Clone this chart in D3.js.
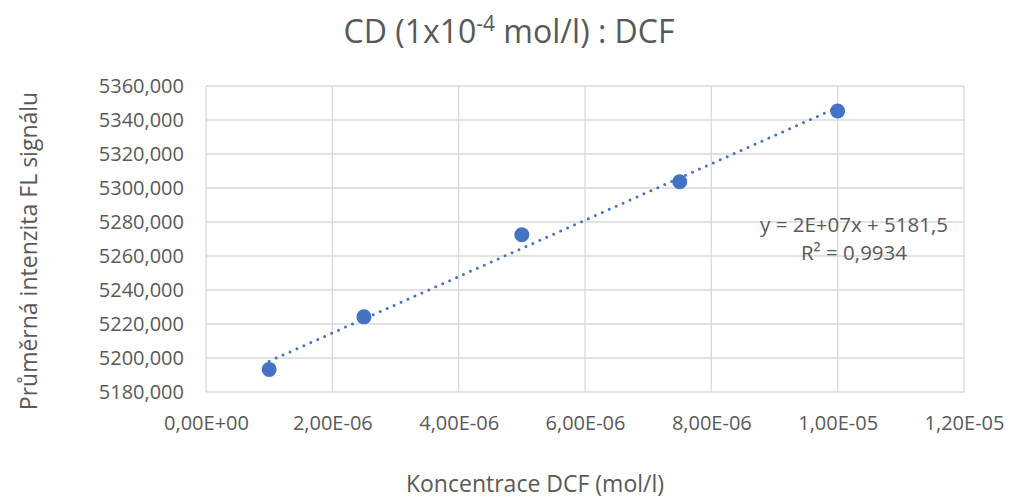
<!DOCTYPE html>
<html>
<head>
<meta charset="utf-8">
<script src="https://cdn.jsdelivr.net/npm/d3@7"></script>
<style>
  html, body { margin: 0; padding: 0; background: #fff; }
  svg text { font-family: "Open Sans", "Noto Sans", sans-serif; fill: #595959; }
</style>
</head>
<body>
<svg id="chart" width="1010" height="501"></svg>
<script>
// Concentration of DCF (mol/l) and mean FL signal intensity
const concentrations = [1e-6, 2.5e-6, 5e-6, 7.5e-6, 1e-5];
const intensities = [5193.3, 5224.2, 5272.5, 5303.7, 5345.3];

const xTicks = [0, 2e-6, 4e-6, 6e-6, 8e-6, 1e-5, 1.2e-5];
const xTickLabels = ["0,00E+00", "2,00E-06", "4,00E-06", "6,00E-06", "8,00E-06", "1,00E-05", "1,20E-05"];
const yTicks = [5180, 5200, 5220, 5240, 5260, 5280, 5300, 5320, 5340, 5360];
const yTickLabels = ["5180,000", "5200,000", "5220,000", "5240,000", "5260,000", "5280,000", "5300,000", "5320,000", "5340,000", "5360,000"];

const equationText = "y = 2E+07x + 5181,5";
const r2Text = "R² = 0,9934";

const svg = d3.select("#chart");
const margin = { left: 206, right: 1010 - 964, top: 86, bottom: 501 - 392 };
const W = 1010, H = 501;

const x = d3.scaleLinear().domain([0, 1.2e-5]).range([margin.left, W - margin.right]);
const y = d3.scaleLinear().domain([5180, 5360]).range([H - margin.bottom, margin.top]);

const gridColor = "#d9d9d9";
const tickFont = 20;

// Gridlines
svg.append("g")
  .selectAll("line")
  .data(yTicks)
  .join("line")
  .attr("x1", x(0)).attr("x2", x(1.2e-5))
  .attr("y1", d => y(d)).attr("y2", d => y(d))
  .attr("stroke", gridColor).attr("stroke-width", 1.3);

svg.append("g")
  .selectAll("line")
  .data(xTicks)
  .join("line")
  .attr("x1", d => x(d)).attr("x2", d => x(d))
  .attr("y1", y(5180)).attr("y2", y(5360))
  .attr("stroke", gridColor).attr("stroke-width", 1.3);

// Y axis labels
const yAxis = d3.axisLeft(y).tickValues(yTicks)
  .tickFormat((d, i) => yTickLabels[i]).tickSize(0).tickPadding(22);
const gy = svg.append("g").attr("transform", `translate(${x(0)},0)`).call(yAxis);
gy.select(".domain").remove();
gy.selectAll("text").attr("font-size", tickFont).style("fill", "#595959")
  .attr("font-family", "\"Open Sans\", sans-serif");

// X axis labels
const xAxis = d3.axisBottom(x).tickValues(xTicks)
  .tickFormat((d, i) => xTickLabels[i]).tickSize(0).tickPadding(24);
const gx = svg.append("g").attr("transform", `translate(0,${y(5180)})`).call(xAxis);
gx.select(".domain").remove();
gx.selectAll("text").attr("font-size", tickFont).style("fill", "#595959")
  .attr("font-family", "\"Open Sans\", sans-serif");

// Linear least-squares trendline
const n = concentrations.length;
const mx = d3.mean(concentrations), my = d3.mean(intensities);
let sxy = 0, sxx = 0;
for (let i = 0; i < n; i++) {
  sxy += (concentrations[i] - mx) * (intensities[i] - my);
  sxx += (concentrations[i] - mx) ** 2;
}
const slope = sxy / sxx, intercept = my - slope * mx;
const xMin = d3.min(concentrations), xMax = d3.max(concentrations);

svg.append("line")
  .attr("x1", x(xMin)).attr("y1", y(intercept + slope * xMin))
  .attr("x2", x(xMax)).attr("y2", y(intercept + slope * xMax))
  .attr("stroke", "#4472C4").attr("stroke-width", 3)
  .attr("stroke-linecap", "round")
  .attr("stroke-dasharray", "0 7.6");

// Data markers
svg.append("g")
  .selectAll("circle")
  .data(concentrations)
  .join("circle")
  .attr("cx", d => x(d))
  .attr("cy", (d, i) => y(intensities[i]))
  .attr("r", 7.5)
  .attr("fill", "#4472C4");

// Trendline equation
svg.append("text").attr("x", 854).attr("y", 232).attr("text-anchor", "middle")
  .attr("font-size", 20.5).text(equationText);
svg.append("text").attr("x", 854).attr("y", 260).attr("text-anchor", "middle")
  .attr("font-size", 20.5).text(r2Text);

// Title
const title = svg.append("text").attr("x", 509).attr("y", 43).attr("text-anchor", "middle")
  .attr("font-size", 32);
title.append("tspan").text("CD (1x10");
title.append("tspan").attr("font-size", 21).attr("dy", -12).text("-4");
title.append("tspan").attr("dy", 12).text(" mol/l) : DCF");

// Axis titles
svg.append("text").attr("x", 535).attr("y", 492).attr("text-anchor", "middle")
  .attr("font-size", 23).text("Koncentrace DCF (mol/l)");
svg.append("text")
  .attr("transform", "translate(37,251) rotate(-90)")
  .attr("text-anchor", "middle")
  .attr("font-size", 23).text("Průměrná intenzita FL signálu");
</script>
</body>
</html>
